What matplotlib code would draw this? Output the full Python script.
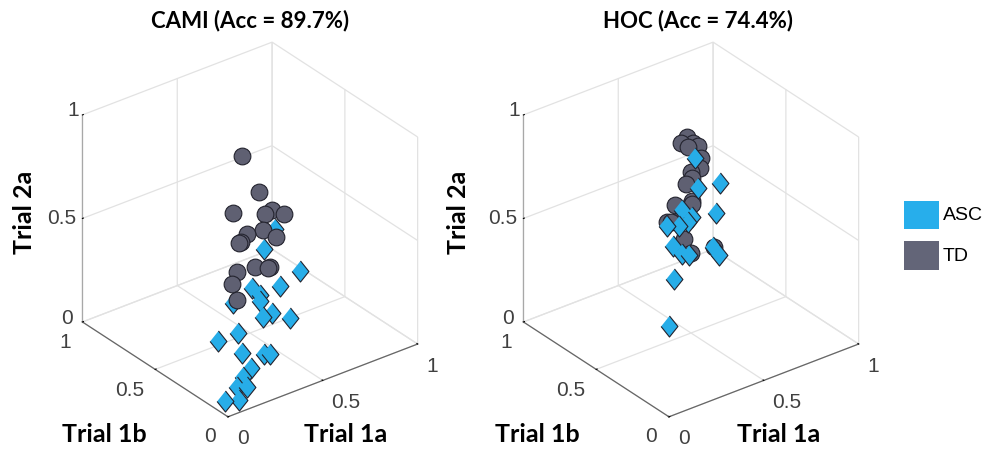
import matplotlib
matplotlib.use('Agg')
import matplotlib.pyplot as plt
from matplotlib.patches import Rectangle

W, H = 988, 450

ticks = [0, 0.5, 1]
tick_labels = ['0', '0.5', '1']
classes = ['ASC', 'TD']

cami_title = 'CAMI (Acc = 89.7%)'
cami_asc_1a = [0.64, 0.55, 0.61, 0.51, 0.41, 0.42, 0.4, 0.31, 0.41, 0.37, 0.46, 0.25, 0.16, 0.21, 0.3, 0.28, 0.2, 0.15, 0.11, 0.14, 0.09, 0.03]
cami_asc_1b = [0.51, 0.47, 0.3, 0.31, 0.37, 0.33, 0.3, 0.37, 0.23, 0.24, 0.17, 0.26, 0.28, 0.18, 0.1, 0.12, 0.1, 0.09, 0.08, 0.05, 0.04, 0.06]
cami_asc_2a = [0.45, 0.40, 0.35, 0.31, 0.31, 0.29, 0.28, 0.27, 0.25, 0.24, 0.24, 0.20, 0.18, 0.15, 0.15, 0.15, 0.12, 0.10, 0.07, 0.07, 0.03, 0.04]
cami_td_1a = [0.71, 0.68, 0.54, 0.64, 0.67, 0.70, 0.53, 0.59, 0.62, 0.49, 0.48, 0.40, 0.47, 0.51, 0.52, 0.35, 0.33]
cami_td_1b = [0.83, 0.67, 0.67, 0.58, 0.57, 0.53, 0.56, 0.53, 0.48, 0.55, 0.55, 0.46, 0.43, 0.39, 0.39, 0.43, 0.37]
cami_td_2a = [0.63, 0.54, 0.49, 0.49, 0.5, 0.49, 0.44, 0.45, 0.43, 0.42, 0.42, 0.35, 0.36, 0.36, 0.36, 0.32, 0.28]

hoc_title = 'HOC (Acc = 74.4%)'
hoc_asc_1a = [0.75, 0.68, 0.77, 0.68, 0.59, 0.57, 0.56, 0.52, 0.48, 0.45, 0.46, 0.48, 0.58, 0.58, 0.37, 0.23]
hoc_asc_1b = [0.8, 0.69, 0.65, 0.56, 0.61, 0.65, 0.6, 0.61, 0.64, 0.56, 0.51, 0.49, 0.45, 0.41, 0.45, 0.3]
hoc_asc_2a = [0.62, 0.55, 0.56, 0.49, 0.48, 0.5, 0.47, 0.46, 0.46, 0.41, 0.39, 0.39, 0.41, 0.39, 0.33, 0.22]
hoc_td_1a = [0.78, 0.74, 0.75, 0.78, 0.79, 0.77, 0.74, 0.7, 0.69, 0.65, 0.63, 0.56, 0.62, 0.49, 0.54, 0.5, 0.5, 0.485, 0.59]
hoc_td_1b = [0.89, 0.88, 0.85, 0.85, 0.83, 0.78, 0.75, 0.76, 0.74, 0.73, 0.66, 0.69, 0.65, 0.65, 0.63, 0.64, 0.55, 0.48, 0.46]
hoc_td_2a = [0.67, 0.66, 0.65, 0.66, 0.65, 0.62, 0.6, 0.59, 0.57, 0.56, 0.52, 0.51, 0.51, 0.47, 0.47, 0.47, 0.43, 0.4, 0.4]

BLUE = '#27ADE8'
GREY = '#5F6072'
EDGE = '#23232E'
TICK_COLOR = '#404040'
GRID = '#E2E2E2'
DIAMOND = [(0, 1), (0.8, 0), (0, -1), (-0.8, 0)]


# place text by pixel position in the 988x450 frame
def put(fig, x, y, s, **kw):
    fig.text(x / W, 1 - y / H, s, **kw)


def panel(fig, left, title, title_x, label_off, asc, td, asc_on_top):
    size = 402
    ax = fig.add_axes([left / W, 14.1 / H, size / W, size / H], projection='3d', proj_type='ortho')
    ax.computed_zorder = False
    ax.patch.set_alpha(0)
    ax.view_init(elev=30, azim=-127.5)
    ax.set_box_aspect((1, 1, 1))
    ax.set_xlim(0, 1, view_margin=0)
    ax.set_ylim(0, 1, view_margin=0)
    ax.set_zlim(0, 1, view_margin=0)
    ax.set_xticks(ticks)
    ax.set_yticks(ticks)
    ax.set_zticks(ticks)
    ax.set_xticklabels([])
    ax.set_yticklabels([])
    ax.set_zticklabels([])

    for axis in (ax.xaxis, ax.yaxis, ax.zaxis):
        axis.set_pane_color((1, 1, 1, 0))
        axis.pane.set_edgecolor(GRID)
        axis.pane.set_linewidth(0.9)
        axis._axinfo['grid'].update(color=GRID, linewidth=0.9)
        axis._axinfo['tick'].update(inward_factor=0, outward_factor=0.06)
        axis._axinfo['tick']['color'] = '#555555'
        axis.line.set_color('#666666')
        axis.line.set_linewidth(0.9)
    # z axis on the left edge
    ax.zaxis.set_ticks_position('upper')
    ax.zaxis.line.set_color('#A8A8A8')

    z_asc = 3 if asc_on_top else 2
    z_td = 2 if asc_on_top else 3
    ax.scatter(*asc, marker=DIAMOND, s=230, c=BLUE, edgecolors=EDGE, linewidths=0.8,
               depthshade=False, zorder=z_asc)
    ax.scatter(*td, marker='o', s=145, c=GREY, edgecolors=EDGE, linewidths=0.8,
               depthshade=False, zorder=z_td)

    off = left - 43.6
    tick_kw = dict(fontsize=15, color=TICK_COLOR, family='Liberation Sans', ha='center', va='center')
    for s, x, y in zip(tick_labels, (67, 62, 73), (319, 218, 111)):
        put(fig, x + off, y, s, **tick_kw)
    for s, x, y in zip(tick_labels, (210, 130, 65), (437, 391, 343)):
        put(fig, x + off, y, s, **tick_kw)
    for s, x, y in zip(tick_labels, (243, 346, 432), (439, 403, 367)):
        put(fig, x + off, y, s, **tick_kw)

    bold = dict(fontweight='bold', family='Lato', color='black', ha='center', va='center')
    put(fig, title_x, 21, title, fontsize=16, **bold)
    put(fig, 25 + label_off, 212, 'Trial 2a', rotation=90, fontsize=18, **bold)
    put(fig, 104 + label_off, 435, 'Trial 1b', fontsize=18, **bold)
    put(fig, 346 + label_off, 435, 'Trial 1a', fontsize=18, **bold)


def main():
    fig = plt.figure(figsize=(W / 100, H / 100), dpi=100)
    panel(fig, 43.6, cami_title, 250, 0, (cami_asc_1a, cami_asc_1b, cami_asc_2a),
          (cami_td_1a, cami_td_1b, cami_td_2a), False)
    panel(fig, 484.6, hoc_title, 698, 433, (hoc_asc_1a, hoc_asc_1b, hoc_asc_2a),
          (hoc_td_1a, hoc_td_1b, hoc_td_2a), True)

    # legend swatches
    for name, color, y0, y1 in zip(classes, ('#27AEEB', '#636578'), (201, 241), (229, 270)):
        fig.add_artist(Rectangle((904 / W, 1 - y1 / H), 35 / W, (y1 - y0) / H,
                                 transform=fig.transFigure, facecolor=color, edgecolor='none'))
        put(fig, 943, (y0 + y1) / 2 + 1, name, fontsize=14, color='black',
            family='Liberation Sans', ha='left', va='center')

    fig.savefig('out.png', dpi=100)


if __name__ == "__main__":
    main()
